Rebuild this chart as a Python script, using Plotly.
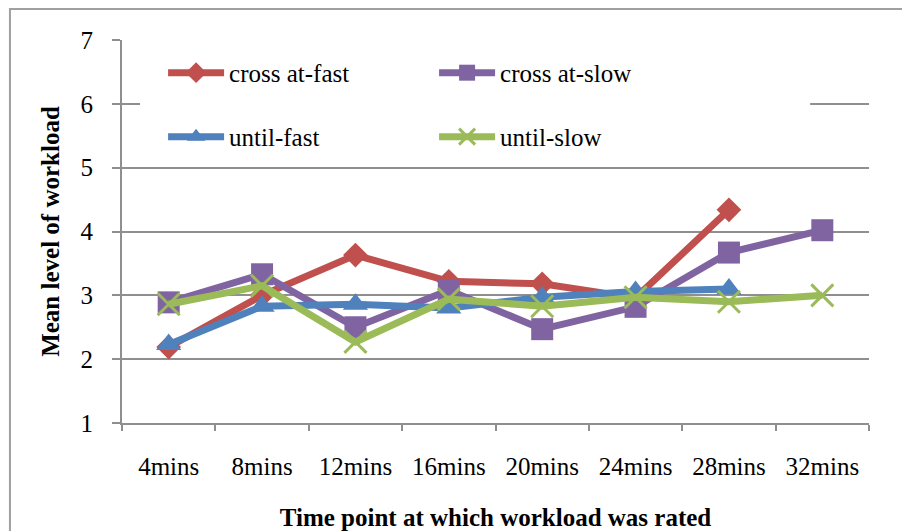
import plotly.graph_objects as go

categories = ["4mins", "8mins", "12mins", "16mins", "20mins", "24mins", "28mins", "32mins"]
cross_at_fast = [2.19, 3.0, 3.63, 3.22, 3.18, 2.96, 4.34, None]
cross_at_slow = [2.89, 3.33, 2.5, 3.08, 2.47, 2.82, 3.67, 4.02]
until_fast = [2.23, 2.83, 2.86, 2.8, 2.97, 3.06, 3.1, None]
until_slow = [2.86, 3.15, 2.27, 2.94, 2.83, 2.97, 2.9, 3.0]

FONT = '"Liberation Serif", "Times New Roman", serif'
GRID = "#8f8f8f"

fig = go.Figure()
series = [
    ("cross at-fast", cross_at_fast, "#C0504D", "diamond", 19, "legend"),
    ("cross at-slow", cross_at_slow, "#8064A2", "square", 22, "legend"),
    ("until-fast", until_fast, "#4F81BD", "triangle-up", 22, "legend2"),
    ("until-slow", until_slow, "#9BBB59", "x-thin", 22, "legend2"),
]
for name, vals, col, sym, sz, lg in series:
    marker = dict(symbol=sym, size=sz, color=col)
    if sym == "x-thin":
        marker["line"] = dict(color=col, width=3)
    fig.add_trace(go.Scatter(
        x=categories, y=vals, name=name, mode="lines+markers",
        line=dict(color=col, width=7), marker=marker, legend=lg,
        connectgaps=False,
    ))

fig.update_layout(
    width=902, height=531,
    margin=dict(l=122, r=33, t=40, b=108),
    paper_bgcolor="white", plot_bgcolor="white",
    font=dict(family=FONT, size=25, color="black"),
    showlegend=True,
    legend=dict(orientation="h", x=0.055, y=0.914, xanchor="left", yanchor="middle",
                entrywidth=200, entrywidthmode="pixels", itemwidth=56,
                bgcolor="rgba(0,0,0,0)", font=dict(family=FONT, size=25)),
    legend2=dict(orientation="h", x=0.055, y=0.747, xanchor="left", yanchor="middle",
                 entrywidth=200, entrywidthmode="pixels", itemwidth=56,
                 bgcolor="rgba(0,0,0,0)", font=dict(family=FONT, size=25)),
)

fig.update_xaxes(
    type="category", range=[-0.5, 7.5], automargin=False,
    showline=True, linecolor=GRID, linewidth=2,
    ticks="outside", tickson="boundaries", ticklen=6, tickcolor=GRID, tickwidth=2,
    showgrid=False, ticklabelstandoff=20,
    tickfont=dict(family=FONT, size=25),
    title=dict(text="<b>Time point at which workload was rated</b>", standoff=31,
               font=dict(family=FONT, size=25)),
)
fig.update_yaxes(
    range=[1, 7], dtick=1, tick0=1, automargin=False,
    showline=True, linecolor=GRID, linewidth=2,
    ticks="outside", ticklen=8, tickcolor=GRID, tickwidth=2,
    showgrid=True, gridcolor=GRID, gridwidth=2, zeroline=False,
    ticklabelstandoff=14,
    tickfont=dict(family=FONT, size=25),
    title=dict(text="<b>Mean level of workload</b>", standoff=14,
               font=dict(family=FONT, size=25)),
)

# white legend background hiding the gridline behind the legend
fig.add_shape(type="rect", xref="x", yref="y", x0=-0.307, x1=6.87, y0=5.15, y1=6.85,
              fillcolor="white", line=dict(width=0), layer="above")
# chart outer border
fig.add_shape(type="rect", xref="paper", yref="paper", x0=-0.15, x1=1.06, y0=-0.31, y1=1.081,
              fillcolor="rgba(0,0,0,0)", line=dict(color="#a0a0a0", width=2), layer="below")

fig.write_html("out.html")
